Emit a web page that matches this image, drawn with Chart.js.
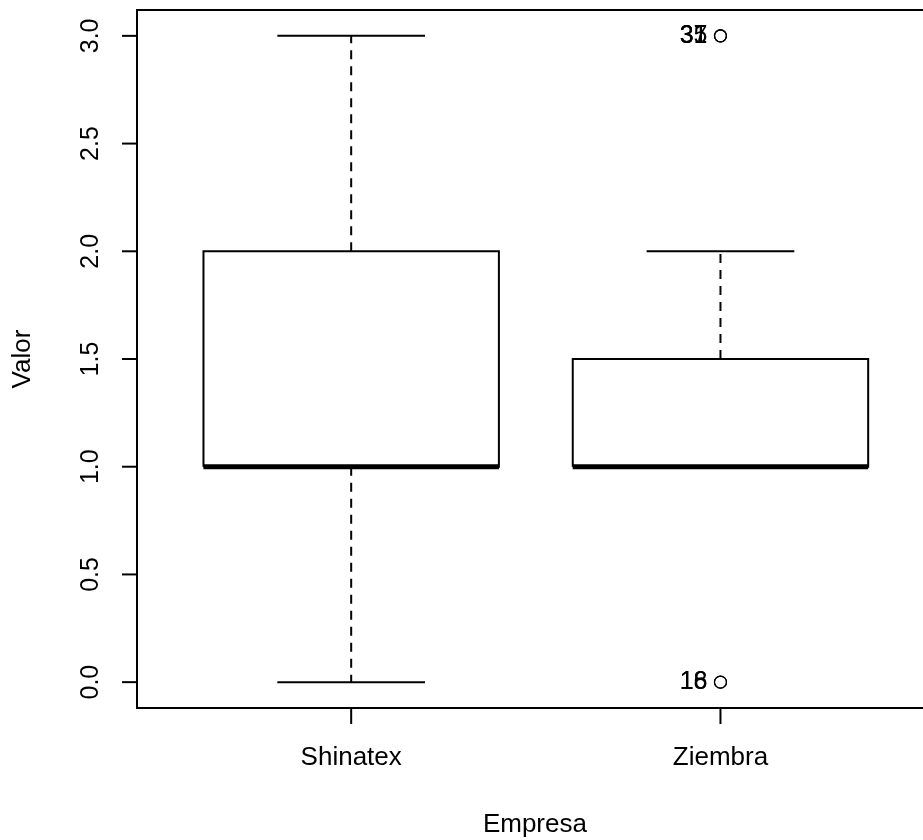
<!DOCTYPE html>
<html>
<head>
<meta charset="utf-8">
<title>Valor por Empresa</title>
<style>
html, body { margin: 0; padding: 0; background: #fff; overflow: hidden; }
#wrap { width: 940px; height: 840px; }
</style>
</head>
<body>
<div id="wrap">
  <canvas id="chart" width="940" height="840"></canvas>
</div>
<script src="https://cdn.jsdelivr.net/npm/chart.js"></script>
<script>
  // datos de las cajas (una posicion por empresa)
  const empresas = ['Shinatex', 'Ziembra'];
  const minimo  = [0, 1];
  const q1      = [1, 1];
  const mediana = [1, 1];
  const q3      = [2, 1.5];
  const maximo  = [3, 2];

  // valores atipicos: indice de empresa, valor, etiqueta
  const atipicoGrupo    = [1, 1, 1, 1, 1];
  const atipicoValor    = [3, 3, 3, 0, 0];
  const atipicoEtiqueta = ['31', '35', '37', '16', '18'];

  const yTicks = [0, 0.5, 1, 1.5, 2, 2.5, 3];

  const FONT = '"Liberation Sans", Arial, sans-serif';
  const halfBox = 0.4;
  const halfCap = 0.2;

  const boxPts = [], medPts = [], whiskPts = [], capPts = [];
  empresas.forEach((e, i) => {
    const c = i + 1;
    boxPts.push({x: c - halfBox, y: q1[i]}, {x: c + halfBox, y: q1[i]},
                {x: c + halfBox, y: q3[i]}, {x: c - halfBox, y: q3[i]},
                {x: c - halfBox, y: q1[i]}, {x: c, y: null});
    medPts.push({x: c - halfBox, y: mediana[i]}, {x: c + halfBox, y: mediana[i]}, {x: c, y: null});
    if (maximo[i] > q3[i]) whiskPts.push({x: c, y: q3[i]}, {x: c, y: maximo[i]}, {x: c, y: null});
    if (minimo[i] < q1[i]) whiskPts.push({x: c, y: q1[i]}, {x: c, y: minimo[i]}, {x: c, y: null});
    capPts.push({x: c - halfCap, y: maximo[i]}, {x: c + halfCap, y: maximo[i]}, {x: c, y: null});
    capPts.push({x: c - halfCap, y: minimo[i]}, {x: c + halfCap, y: minimo[i]}, {x: c, y: null});
  });
  const outPts = atipicoValor.map((v, k) => ({x: atipicoGrupo[k] + 1, y: v}));

  const axesPlugin = {
    id: 'rAxes',
    afterDraw(chart) {
      const ctx = chart.ctx;
      const a = chart.chartArea;
      const xs = chart.scales.x, ys = chart.scales.y;
      ctx.save();
      ctx.strokeStyle = '#000';
      ctx.fillStyle = '#000';
      ctx.lineWidth = 2;
      ctx.strokeRect(a.left, a.top, a.right - a.left, a.bottom - a.top);

      // eje y
      ctx.font = '25px ' + FONT;
      yTicks.forEach(t => {
        const y = ys.getPixelForValue(t);
        ctx.beginPath();
        ctx.moveTo(a.left, y);
        ctx.lineTo(a.left - 15, y);
        ctx.stroke();
        ctx.save();
        ctx.translate(a.left - 46, y);
        ctx.rotate(-Math.PI / 2);
        ctx.textAlign = 'center';
        ctx.textBaseline = 'middle';
        ctx.fillText(t.toFixed(1), 0, 0);
        ctx.restore();
      });

      // eje x
      ctx.font = '26px ' + FONT;
      ctx.textAlign = 'center';
      ctx.textBaseline = 'middle';
      empresas.forEach((e, i) => {
        const x = xs.getPixelForValue(i + 1);
        ctx.beginPath();
        ctx.moveTo(x, a.bottom);
        ctx.lineTo(x, a.bottom + 16);
        ctx.stroke();
        ctx.fillText(e, x, a.bottom + 50);
      });

      // titulos
      ctx.fillText('Empresa', (a.left + a.right) / 2, a.bottom + 117);
      ctx.save();
      ctx.translate(23, (a.top + a.bottom) / 2);
      ctx.rotate(-Math.PI / 2);
      ctx.fillText('Valor', 0, 0);
      ctx.restore();

      // etiquetas de atipicos
      ctx.font = '25px ' + FONT;
      ctx.textAlign = 'right';
      outPts.forEach((p, k) => {
        ctx.fillText(atipicoEtiqueta[k], xs.getPixelForValue(p.x) - 13, ys.getPixelForValue(p.y));
      });
      ctx.restore();
    }
  };

  const line = (data, width, dash) => ({
    type: 'line', data: data, showLine: true, spanGaps: false,
    borderColor: '#000', borderWidth: width, borderDash: dash || [],
    pointRadius: 0, fill: false, tension: 0
  });

  new Chart(document.getElementById('chart'), {
    type: 'scatter',
    data: {
      datasets: [
        line(whiskPts, 2, [9, 7]),
        line(capPts, 2),
        line(boxPts, 2),
        line(medPts, 5),
        {
          data: outPts, pointStyle: 'circle', pointRadius: 6,
          borderColor: '#000', borderWidth: 1.2, backgroundColor: 'rgba(0,0,0,0)'
        }
      ]
    },
    options: {
      responsive: false,
      animation: false,
      layout: { padding: { left: 137, top: 10, right: 2, bottom: 132 } },
      plugins: { legend: { display: false }, tooltip: { enabled: false } },
      scales: {
        x: { type: 'linear', min: 0.42, max: 2.575, display: false },
        y: { type: 'linear', min: -0.12, max: 3.12, display: false }
      }
    },
    plugins: [axesPlugin]
  });
</script>
</body>
</html>
